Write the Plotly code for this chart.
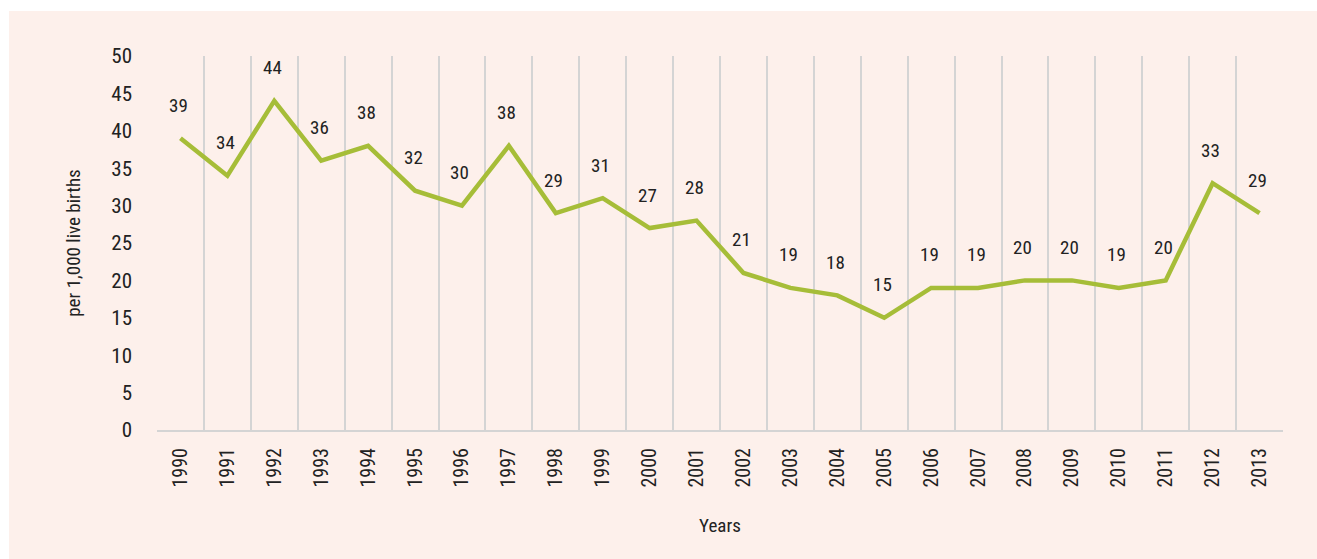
import plotly.graph_objects as go

years = [str(y) for y in range(1990, 2014)]
values = [39, 34, 44, 36, 38, 32, 30, 38, 29, 31, 27, 28, 21, 19, 18, 15, 19, 19, 20, 20, 19, 20, 33, 29]
y_ticks = list(range(0, 51, 5))

FONT = "Roboto Condensed, Liberation Sans Narrow, Arial Narrow, sans-serif"
PINK = "#FDF0EB"
LINE = "#A6BD38"
GRID = "#D4D4D4"
TXT = "#222222"
WGT = 400

fig = go.Figure()
fig.add_trace(go.Scatter(x=years, y=values, mode="lines",
                         line=dict(color=LINE, width=4.5), hoverinfo="x+y"))

for i, v in enumerate(values):
    fig.add_annotation(x=i, y=v, text=str(v), showarrow=False, yshift=33, xshift=-2,
                       font=dict(family=FONT, size=19, color=TXT, weight=WGT))

L, R, T, B = 157, 34, 56, 129
W, H = 1317, 559
pw, ph = W - L - R, H - T - B
fig.add_shape(type="rect", xref="paper", yref="paper", layer="below",
              x0=(9 - L) / pw, x1=(W - L) / pw,
              y0=-(B) / ph, y1=(H - B - 11) / ph,
              fillcolor=PINK, line=dict(width=0))

fig.update_layout(
    width=W, height=H,
    margin=dict(l=L, r=R, t=T, b=B, autoexpand=False),
    paper_bgcolor="white", plot_bgcolor="rgba(0,0,0,0)",
    showlegend=False,
    font=dict(family=FONT, size=20, color=TXT, weight=WGT),
    xaxis=dict(type="category", tickson="boundaries", showgrid=True, gridcolor=GRID, gridwidth=2,
               showline=True, linecolor=GRID, linewidth=2, tickangle=-90,
               ticks="", ticklabelstandoff=8, automargin=False,
               tickfont=dict(family=FONT, size=20, color=TXT, weight=WGT),
               title=dict(text="Years", standoff=32, font=dict(family=FONT, size=19, color=TXT, weight=WGT)),
               range=[-0.5, 23.5], zeroline=False),
    yaxis=dict(range=[0, 50], tickvals=y_ticks, showgrid=False, zeroline=False, showline=False,
               ticks="", ticklabelstandoff=24, automargin=False,
               tickfont=dict(family=FONT, size=21, color=TXT, weight=WGT),
               title=dict(text="per 1,000 live births", standoff=25,
                          font=dict(family=FONT, size=19, color=TXT, weight=WGT))),
)

fig.write_html("out.html", config={"displayModeBar": False},
               post_script="document.body.style.margin='0px';")
